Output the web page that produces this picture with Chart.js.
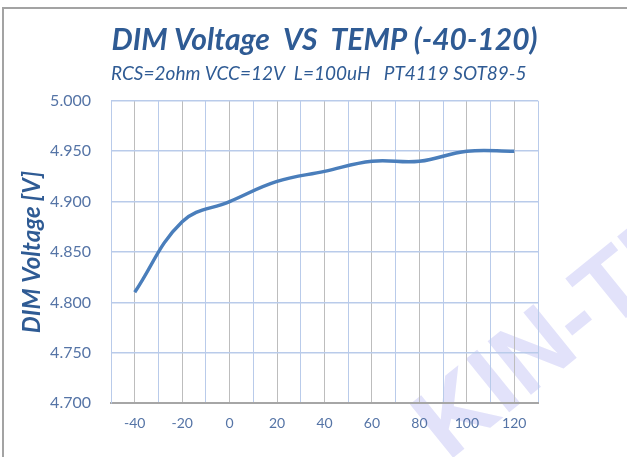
<!DOCTYPE html>
<html>
<head>
<meta charset="utf-8">
<script src="https://cdn.jsdelivr.net/npm/chart.js@4.4.1/dist/chart.umd.min.js"></script>
<style>
  html, body { margin: 0; padding: 0; background: #fff; }
  #wrap { position: relative; width: 627px; height: 457px; }
  #frame {
    position: absolute; left: 2px; top: 7px; right: -10px; bottom: -10px;
    border-left: 2px solid #a3a3a3; border-top: 2px solid #a3a3a3;
    pointer-events: none;
  }
</style>
</head>
<body>
<div id="wrap">
  <canvas id="chart" width="627" height="457"></canvas>
  <div id="frame"></div>
</div>
<script>
// Data
const temps = [-40, -20, 0, 20, 40, 60, 80, 100, 120];
const dimVoltage = [4.810, 4.880, 4.900, 4.920, 4.930, 4.940, 4.940, 4.950, 4.950];
const yTicks = [4.700, 4.750, 4.800, 4.850, 4.900, 4.950, 5.000];
const xLabelTicks = [-40, -20, 0, 20, 40, 60, 80, 100, 120];

const titleText = 'DIM Voltage  VS  TEMP (-40-120)';
const subtitleText = 'RCS=2ohm VCC=12V  L=100uH   PT4119 SOT89-5';
const watermarkText = 'KIN-TECH';

const blue = '#2f5b94';
const tickBlue = '#5574a6';
const gridBlue = '#b9cbea';
const gridGray = '#bdbdbd';

// faint diagonal watermark behind everything
const watermark = {
  id: 'watermark',
  beforeDraw(chart) {
    const ctx = chart.ctx;
    ctx.save();
    ctx.translate(448, 462);
    ctx.rotate(-39 * Math.PI / 180);
    ctx.fillStyle = '#e2e2fa';
    ctx.font = 'bold 100px "Liberation Sans"';
    ctx.fillText(watermarkText, 0, 0);
    ctx.restore();
  }
};

const canvas = document.getElementById('chart');
new Chart(canvas.getContext('2d'), {
  type: 'line',
  data: {
    datasets: [{
      data: temps.map((t, i) => ({ x: t, y: dimVoltage[i] })),
      borderColor: '#4a7ebb',
      borderWidth: 3.5,
      pointRadius: 0,
      tension: 0.4,
      fill: false
    }]
  },
  options: {
    responsive: false,
    animation: false,
    layout: { padding: { top: 22, left: 18, right: 89, bottom: 13 } },
    plugins: {
      legend: { display: false },
      tooltip: { enabled: false },
      title: {
        display: true,
        text: titleText,
        fullSize: false,
        color: blue,
        font: { family: 'Lato', size: 30, weight: 'bold', style: 'italic' },
        padding: { top: 0, bottom: 4 }
      },
      subtitle: {
        display: true,
        text: subtitleText,
        fullSize: false,
        align: 'start',
        color: blue,
        font: { family: 'Lato', size: 19, style: 'italic' },
        padding: { top: 0, bottom: 16 }
      }
    },
    scales: {
      x: {
        type: 'linear',
        min: -50,
        max: 130,
        ticks: {
          stepSize: 10,
          autoSkip: false,
          maxRotation: 0,
          color: tickBlue,
          font: { family: 'Lato', size: 14 },
          padding: 12,
          callback: (v) => xLabelTicks.includes(v) ? String(v) : ''
        },
        grid: {
          drawTicks: false,
          lineWidth: 1,
          color: (c) => xLabelTicks.includes(c.tick.value) ? gridGray : gridBlue
        },
        border: { color: '#a6a6a6', width: 2 }
      },
      y: {
        min: 4.7,
        max: 5.0,
        afterBuildTicks: (axis) => { axis.ticks = yTicks.map(v => ({ value: v })); },
        afterFit: (axis) => { axis.width = 93; },
        ticks: {
          color: tickBlue,
          font: { family: 'Lato', size: 16 },
          padding: 20,
          callback: (v) => Number(v).toFixed(3)
        },
        grid: { drawTicks: false, color: gridBlue, lineWidth: 1.5 },
        border: { color: gridBlue },
        title: {
          display: true,
          text: 'DIM Voltage [V]',
          color: blue,
          font: { family: 'Lato', size: 24, weight: 'bold', style: 'italic' },
          padding: { top: 0, bottom: 4 }
        }
      }
    }
  },
  plugins: [watermark]
});
</script>
</body>
</html>
